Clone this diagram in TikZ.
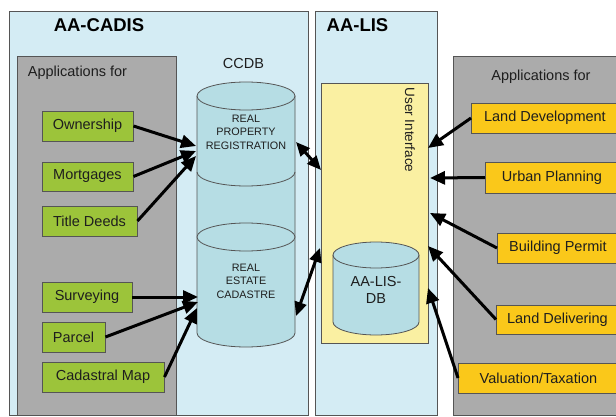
\documentclass[tikz,border=0pt]{standalone}
\usepackage{fontspec}
\setmainfont{Liberation Sans}
\usetikzlibrary{arrows.meta}
\definecolor{lblue}{HTML}{D4ECF4}
\definecolor{pgray}{HTML}{ABABAB}
\definecolor{appgreen}{HTML}{9CC43A}
\definecolor{appyellow}{HTML}{FAC81A}
\definecolor{uiyellow}{HTML}{FAF0A2}
\definecolor{cylcol}{HTML}{B6DDE4}
\definecolor{edge}{HTML}{555555}
\definecolor{txt}{HTML}{1E1E1E}
\begin{document}
\begin{tikzpicture}[x=1pt,y=-1pt,
  panel/.style={draw=edge, line width=0.8pt, anchor=north west, inner sep=0pt},
  greenbox/.style={draw=edge, line width=0.9pt, fill=appgreen, minimum height=30pt, inner sep=0pt, text=txt, font=\fontsize{14.5}{16}\selectfont},
  yellowbox/.style={draw=edge, line width=0.9pt, fill=appyellow, minimum height=30pt, inner sep=0pt, anchor=west, text=txt, font=\fontsize{14.5}{16}\selectfont},
  title/.style={font=\fontsize{18.5}{20}\selectfont\bfseries, text=black},
  label/.style={font=\fontsize{14.5}{16}\selectfont, text=txt},
  dbtext/.style={font=\fontsize{10.8}{13.5}\selectfont, text=txt, align=center},
  cylline/.style={draw=edge, line width=0.8pt},
  link/.style={line width=3pt, -{Triangle[length=15pt,width=13pt]}},
  twoway/.style={line width=3pt, {Triangle[length=14pt,width=12pt]}-{Triangle[length=14pt,width=12pt]}}
]
\useasboundingbox (0,0) rectangle (616,417);
\fill[white] (0,0) rectangle (616,417);

% panels
\node[panel, fill=lblue, minimum width=299pt, minimum height=404pt] (cadis) at (9,11) {};
\node[panel, fill=pgray, minimum width=159pt, minimum height=359pt] (leftapps) at (17,56) {};
\node[panel, fill=lblue, minimum width=122pt, minimum height=404pt] (lis) at (315,11) {};
\node[panel, fill=pgray, minimum width=180pt, minimum height=359pt] (rightapps) at (453,56) {};
\node[panel, fill=uiyellow, minimum width=107pt, minimum height=260pt] (ui) at (321,83) {};

% titles
\node[title] (cadistitle) at (99,25) {AA-CADIS};
\node[title] (listitle) at (357.5,25) {AA-LIS};
\node[label] (lefthead) at (77.5,73) {Applications for};
\node[label] (righthead) at (541,77) {Applications for};
\node[label] (ccdblabel) at (243.5,64) {CCDB};
\node[font=\fontsize{13.5}{15}\selectfont, text=txt, rotate=-90] (uilabel) at (410,130) {User Interface};

% CCDB stacked cylinder
\fill[cylcol] (197,96) -- (197,333) arc[start angle=180,end angle=360,x radius=49pt,y radius=14pt] -- (295,96) -- cycle;
\draw[cylline] (197,96) -- (197,333) arc[start angle=180,end angle=360,x radius=49pt,y radius=14pt] -- (295,96);
\draw[cylline, fill=cylcol] (246,96) ellipse[x radius=49pt, y radius=14pt];
\draw[cylline] (197,172) arc[start angle=180,end angle=360,x radius=49pt,y radius=14pt];
\draw[cylline, fill=cylcol] (246,237) ellipse[x radius=49pt, y radius=14pt];
\node[dbtext] (rpr) at (246,132) {REAL\\PROPERTY\\REGISTRATION};
\node[dbtext] (rec) at (246,281) {REAL\\ESTATE\\CADASTRE};

% AA-LIS-DB cylinder
\fill[cylcol] (333,255) -- (333,322) arc[start angle=180,end angle=360,x radius=43pt,y radius=13pt] -- (419,255) -- cycle;
\draw[cylline] (333,255) -- (333,322) arc[start angle=180,end angle=360,x radius=43pt,y radius=13pt] -- (419,255);
\draw[cylline, fill=cylcol] (376,255) ellipse[x radius=43pt, y radius=13pt];
\node[font=\fontsize{14.5}{17}\selectfont, text=txt, align=center] (lisdb) at (376,290) {AA-LIS-\\DB};

% left applications
\node[greenbox, minimum width=91pt] (own) at (87.5,126) {Ownership};
\node[greenbox, minimum width=91pt, minimum height=29pt] (mort) at (87.5,176.5) {Mortgages};
\node[greenbox, minimum width=95pt] (title) at (89.5,221) {Title Deeds};
\node[greenbox, minimum width=90pt] (surv) at (87,297) {Surveying};
\node[greenbox, minimum width=63pt] (parcel) at (73.5,337) {Parcel};
\node[greenbox, minimum width=122pt] (cmap) at (103,377) {Cadastral Map};

% right applications
\node[yellowbox, minimum width=147pt] (landdev) at (471,118) {Land Development};
\node[yellowbox, minimum width=133pt, minimum height=31pt] (urban) at (485,177.5) {Urban Planning};
\node[yellowbox, minimum width=121pt] (build) at (497,248) {Building Permit};
\node[yellowbox, minimum width=122pt, minimum height=29pt] (deliver) at (496,319.5) {Land Delivering};
\node[yellowbox, minimum width=160pt] (valtax) at (458,378) {Valuation/Taxation};

% connector end points
\coordinate (rprA) at (196,146);
\coordinate (rprB) at (196,151);
\coordinate (rprC) at (196,156);
\coordinate (recA) at (198,297);
\coordinate (recB) at (198,302);
\coordinate (recC) at (197,308);
\coordinate (ccdbR1) at (296,142);
\coordinate (uiL1) at (321,170);
\coordinate (uiL2) at (320,248);
\coordinate (ccdbR2) at (296,316);
\coordinate (uiR1) at (428,148);
\coordinate (uiR2) at (430,178);
\coordinate (uiR3) at (430,213);
\coordinate (uiR4) at (428,246);
\coordinate (uiR5) at (428,288);

% connectors
\draw[link] (own.east) -- (rprA);
\draw[link] (mort.east) -- (rprB);
\draw[link] (title.east) -- (rprC);
\draw[link] (surv.east) -- (recA);
\draw[link] (parcel.east) -- (recB);
\draw[link] (cmap.east) -- (recC);
\draw[twoway] (ccdbR1) -- (uiL1);
\draw[twoway] (uiL2) -- (ccdbR2);
\draw[link] (landdev.west) -- (uiR1);
\draw[link] (urban.west) -- (uiR2);
\draw[link] (build.west) -- (uiR3);
\draw[link] (deliver.west) -- (uiR4);
\draw[link] (valtax.west) -- (uiR5);
\end{tikzpicture}
\end{document}
